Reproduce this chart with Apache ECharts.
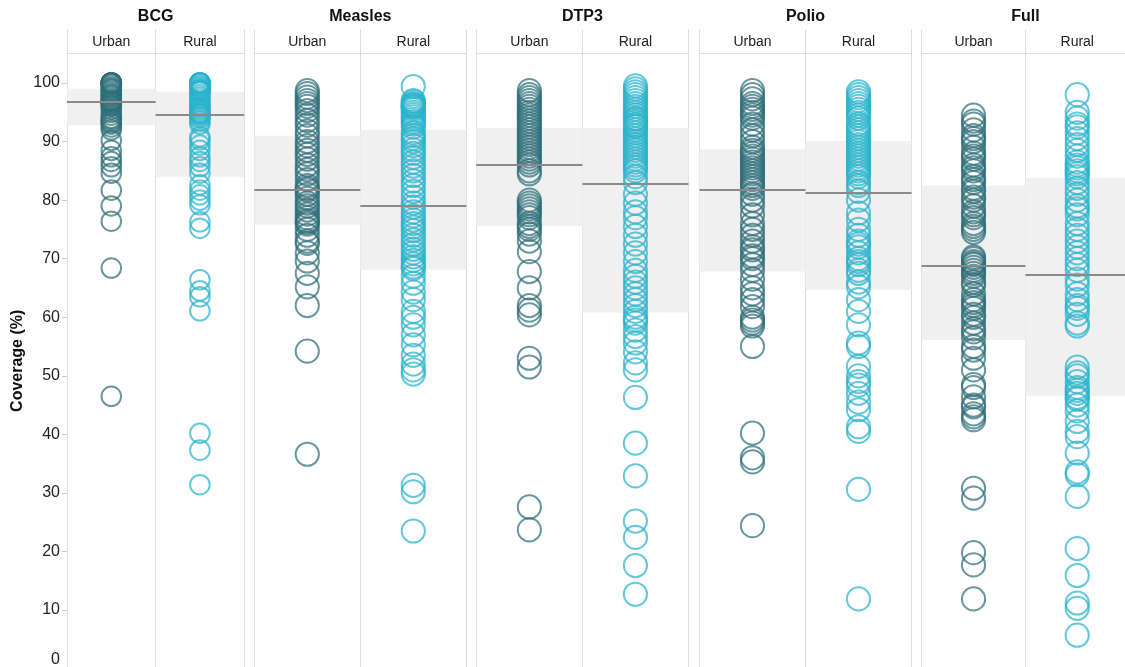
<!DOCTYPE html>
<html>
<head>
<meta charset="utf-8">
<script src="https://cdn.jsdelivr.net/npm/echarts@6/dist/echarts.min.js"></script>
<style>
html,body{margin:0;padding:0;background:#fff;}
#chart{width:1125px;height:667px;}
</style>
</head>
<body>
<div id="chart"></div>
<script>
// ---------------- data ----------------
const groups = ['BCG', 'Measles', 'DTP3', 'Polio', 'Full'];
const settings = ['Urban', 'Rural'];
const yTicks = [0, 10, 20, 30, 40, 50, 60, 70, 80, 90, 100];

const bcgUrban = [100,100,100,100,100,100,100,99.8,99.5,99.2,99,98.8,98.5,98.2,98,97.8,97.5,97.2,97,96.9,96.8,96.7,96.5,96.2,96,95.5,95,94.5,94,93.8,93.5,93.2,93,92.5,92,90.2,88.5,87.4,86.6,85.7,84.6,81.7,79,76.4,68.4,46.5];
const bcgRural = [100,100,100,100,100,100,99.8,99.5,99.3,99,98.9,98.8,98.7,98.6,98.4,98,97.6,97.2,96.8,96.4,96,95.8,95.5,95.2,95,94.8,94.7,94.6,94.3,94,93.5,93,90.8,90.3,89.4,88.5,87.4,86.6,85.7,84.6,82.6,81.7,80.9,80,79.2,76.3,75.2,66.4,64.5,63.5,61.1,40.2,37.3,31.4];
const measlesUrban = [98.7,98.2,97.6,97,96.5,96,95.3,94.5,93.6,92.8,91.8,91,90,89.3,88.5,87.8,87,86,85.2,84.5,83.5,82.5,82,81.7,81,80.3,79.5,79,78.3,77.6,77,76.5,76.2,75.9,75,74,73,72.6,71,69.6,67.5,65.2,62,54.2,36.6];
const measlesRural = [99.4,97,96.8,96.5,96.3,96.2,96,95.9,95.7,95.4,95,94.6,94.2,93.8,93.4,93,92.5,91.5,91,90.5,90,89.3,88.6,88,87.3,86.5,85.8,85,84.2,83.3,82.5,81.5,80.5,79.5,78.8,78,77.3,76.6,76,75.4,74.8,74,73.2,72.4,71.6,71,70.3,69.7,69.1,68.6,68.3,67,65.8,64.3,63,61,60,58.7,57,55.3,53.5,52,51,50.3,31.3,30.2,23.5];
const dtp3Urban = [98.7,98,97.5,97,96.5,96,95.5,95,94.5,94,93.5,93,92.5,92,91.5,91,90.5,90,89.5,89,88.5,88,87.5,87,86.5,86,85,84.5,80,79.5,79,78.5,78,77.5,77,76,75.5,75,74.2,73,71.2,67.8,65,62,61.2,60.4,53,51.5,27.6,23.7];
const dtp3Rural = [99.5,99,98.5,98,97.5,97,96.5,96,95.5,95,94.5,94,93.8,93.4,93,92.7,92.5,92,91.5,91,90.5,90,89.5,89,88.5,88,87.5,87,86.5,86,85.5,85,84,83,81,79.5,78,77,75.5,74,72.5,71,69.5,68,67,66,65,64,63,62,61,60,59.5,59,57.8,56.7,55.6,54.1,52.2,51,46.3,38.5,32.9,25.2,22.4,17.6,12.7];
const polioUrban = [98.7,98,97.3,96.5,96,95.5,95,94.5,94,93,92,91,90,89,88.5,88,87.5,87,86.5,86,85.5,85,84.5,84,83.5,83,82.5,82,81,80,79,77.5,76,75,74,73,72,71.5,70.5,70,69,68,66.5,65,64,63,61.8,60,59.5,59,58.5,55,40.2,36,35.3,24.4];
const polioRural = [98.5,98,97.5,97,96.5,96,95.5,95,94.5,94,93,92.5,92,91.5,91,90.5,90,89.5,89,88.5,88,87.5,87,86.5,86,85.5,85,84.5,84,83,82.5,81.5,80,77.8,76.6,75,74,73,72.5,72,71,70,69.5,69,68,67.5,66,65.2,63,61,58.7,55.6,55,51.6,50,49,48.4,47,45.5,44.2,41.3,40.5,30.6,11.9];
const fullUrban = [94.5,93.5,93,92,91,90.5,90,89,88,87.5,87,86,85.5,85,84,83.5,83,82,81.5,80.5,80,79,78,77.5,77,76,75.5,75,74.5,70.3,70,69.5,69.2,69,68.5,68,67.5,67,66,65.5,64,63,62.5,62,61.5,60.5,60,59,58,57.5,56.5,55,54.4,53,51,48.5,48,46.4,45,44.7,43.5,43,42.5,30.8,29.1,19.8,17.7,11.9];
const fullRural = [98,95,94,93,92.5,91.5,90.5,89.5,88.5,87.5,86.5,86,85.5,85,84.5,84,83,82,81,80,79,78.5,77.5,76,75,74,73,72,71,70,69,68,66.5,65.5,64,63,62,61.5,60.5,59,58.5,51.5,50.5,50,49,48,47.5,47,46.3,46,45,44,42.2,40.5,39.6,36.8,33.6,33.1,29.4,20.5,15.9,11.2,10.3,5.7];

// summary statistics (median line and interquartile band)
const medianUrban = [96.8, 81.85, 86.1, 81.7, 68.8];
const medianRural = [94.5, 79.1, 82.8, 81.3, 67.3];
const q1Urban = [92.8, 75.8, 75.6, 67.8, 56.1];
const q3Urban = [99.0, 91.0, 92.3, 88.7, 82.5];
const q1Rural = [84.0, 68.1, 60.8, 64.7, 46.6];
const q3Rural = [98.5, 92.0, 92.3, 90.1, 83.8];

// ---------------- layout ----------------
const FONT = '"Liberation Sans", Arial, Helvetica, sans-serif';
const GROUP_LEFT = [67, 254.3, 476.3, 699.5, 921.7];
const SUB_W = [88.6, 106, 106.1, 106, 103.7];
const SYMBOL = [19.6, 23.2, 23.2, 23.2, 23.2];
const TOP = 30;
const PLOT_H = 638.6;
const Y_MAX = 109.05;
const COLORS = ['#2f6f7a', '#2ab3cc'];

const valuesTable = [
  [bcgUrban, bcgRural],
  [measlesUrban, measlesRural],
  [dtp3Urban, dtp3Rural],
  [polioUrban, polioRural],
  [fullUrban, fullRural]
];
const medTable = [medianUrban, medianRural];
const q1Table = [q1Urban, q1Rural];
const q3Table = [q3Urban, q3Rural];

const grid = [], xAxis = [], yAxis = [], series = [], title = [];

groups.forEach((g, gi) => {
  title.push({
    text: g,
    left: GROUP_LEFT[gi] + SUB_W[gi],
    top: 9,
    textAlign: 'center',
    padding: 0,
    textStyle: {fontSize: 16, fontWeight: 'bold', color: '#111', fontFamily: FONT}
  });
  settings.forEach((s, si) => {
    const idx = gi * 2 + si;
    grid.push({
      left: GROUP_LEFT[gi] + si * SUB_W[gi],
      top: TOP,
      width: SUB_W[gi],
      height: PLOT_H,
      containLabel: false,
      outerBoundsMode: 'none'
    });
    xAxis.push({
      gridIndex: idx,
      type: 'category',
      data: [s],
      position: 'top',
      offset: -23,
      axisLine: {show: true, onZero: false, lineStyle: {color: '#dddddd', width: 1}},
      axisTick: {show: false},
      axisLabel: {fontSize: 14, color: '#222', margin: 4, fontFamily: FONT},
      splitLine: {show: false}
    });
    const first = idx === 0;
    const yIdx = yAxis.length;
    yAxis.push({
      gridIndex: idx,
      type: 'value',
      min: 0,
      max: Y_MAX,
      position: 'left',
      axisLine: {show: true, onZero: false, lineStyle: {color: '#dddddd', width: 1}},
      axisTick: {show: first, customValues: yTicks, length: 5, lineStyle: {color: '#cccccc'}},
      axisLabel: {
        show: first,
        customValues: yTicks,
        margin: 7,
        fontSize: 16,
        color: '#222',
        fontFamily: FONT,
        formatter: v => (v === 0 ? '{z|0}' : String(v)),
        rich: {z: {fontSize: 16, color: '#222', fontFamily: FONT, padding: [0, 0, 18, 0]}}
      },
      splitLine: {show: false}
    });
    if (si === 1) {
      yAxis.push({
        gridIndex: idx,
        type: 'value',
        min: 0,
        max: Y_MAX,
        position: 'right',
        axisLine: {show: true, onZero: false, lineStyle: {color: '#dddddd', width: 1}},
        axisTick: {show: false},
        axisLabel: {show: false},
        splitLine: {show: false}
      });
    }
    series.push({
      type: 'scatter',
      xAxisIndex: idx,
      yAxisIndex: yIdx,
      symbol: 'circle',
      symbolSize: SYMBOL[gi],
      silent: true,
      z: 2,
      itemStyle: {
        color: 'rgba(0,0,0,0)',
        borderColor: COLORS[si],
        borderWidth: 2,
        opacity: 0.72
      },
      emphasis: {disabled: true},
      data: valuesTable[gi][si].map(v => [s, v]),
      markArea: {
        silent: true,
        z: 1,
        itemStyle: {color: '#f0f0f0'},
        label: {show: false},
        data: [[{yAxis: q1Table[si][gi]}, {yAxis: q3Table[si][gi]}]]
      },
      markLine: {
        silent: true,
        z: 5,
        symbol: ['none', 'none'],
        label: {show: false},
        lineStyle: {color: '#8a8a8a', width: 2, type: 'solid'},
        emphasis: {disabled: true},
        data: [{yAxis: medTable[si][gi]}]
      }
    });
  });
});

// helper grid for the y-axis title, spanning the plotted area
const tIdx = grid.length;
grid.push({left: 67, top: 53, width: 10, height: 615.6, containLabel: false, outerBoundsMode: 'none'});
xAxis.push({gridIndex: tIdx, type: 'category', data: [''], show: false});
yAxis.push({
  gridIndex: tIdx,
  type: 'value',
  min: 0,
  max: 1,
  name: 'Coverage (%)',
  nameLocation: 'middle',
  nameRotate: 90,
  nameGap: 41,
  nameTextStyle: {fontSize: 16, fontWeight: 'bold', color: '#111', fontFamily: FONT},
  axisLine: {show: false},
  axisTick: {show: false},
  axisLabel: {show: false},
  splitLine: {show: false}
});

const chart = echarts.init(document.getElementById('chart'), null, {renderer: 'canvas'});
chart.setOption({
  animation: false,
  backgroundColor: '#ffffff',
  textStyle: {fontFamily: FONT},
  title: title,
  grid: grid,
  xAxis: xAxis,
  yAxis: yAxis,
  series: series
});
</script>
</body>
</html>
